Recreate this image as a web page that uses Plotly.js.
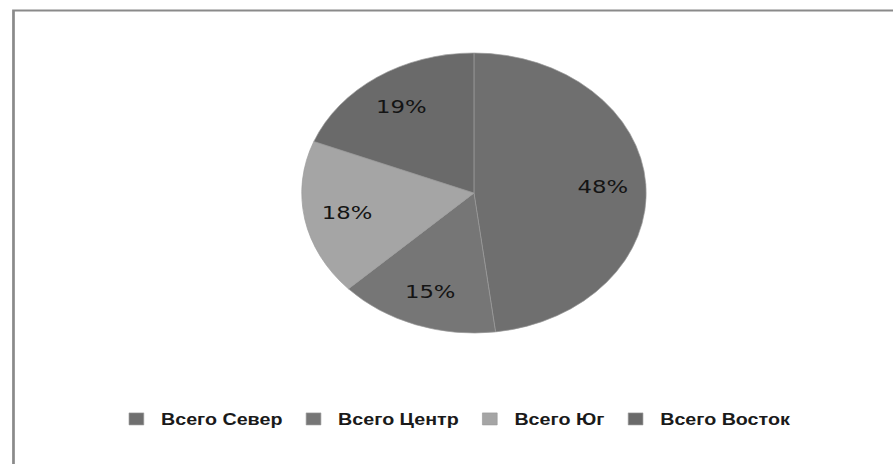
<!DOCTYPE html>
<html>
<head>
<meta charset="utf-8">
<script src="https://cdn.plot.ly/plotly-3.0.1.min.js"></script>
<style>
  html, body { margin: 0; padding: 0; background: #fff; overflow: hidden; }
  #chart { width: 726px; height: 464px; transform: scaleX(1.230028); transform-origin: 0 0; }
</style>
</head>
<body>
<div id="chart"></div>
<script>
const categories = ["Всего Север", "Всего Центр", "Всего Юг", "Всего Восток"];
const values = [48, 15, 18, 19];
const colors = ["#6f6f6f", "#767676", "#a5a5a5", "#6a6a6a"];

const pieDomain = { x: [0.3379, 0.7236], y: [0.2823, 0.8858] };

// base pie: slices + legend
const base = {
  type: "pie",
  labels: categories,
  values: values,
  sort: false,
  direction: "clockwise",
  rotation: 0,
  marker: { colors: colors, line: { color: "#9a9a9a", width: 0.6 } },
  textinfo: "none",
  domain: pieDomain,
  hoverinfo: "none"
};

// transparent ring carrying the percentage labels (places them farther out)
const labelsRing = {
  type: "pie",
  labels: categories,
  values: values,
  sort: false,
  direction: "clockwise",
  rotation: 0,
  hole: 0.5,
  showlegend: false,
  marker: { colors: ["rgba(0,0,0,0)", "rgba(0,0,0,0)", "rgba(0,0,0,0)", "rgba(0,0,0,0)"], line: { width: 0 } },
  textinfo: "percent",
  textposition: "inside",
  insidetextorientation: "horizontal",
  textfont: { family: "DejaVu Sans", size: 18.5, color: "#141414" },
  domain: pieDomain,
  hoverinfo: "none"
};

const layout = {
  width: 726,
  height: 464,
  margin: { l: 0, r: 0, t: 0, b: 0 },
  paper_bgcolor: "#ffffff",
  showlegend: true,
  legend: {
    orientation: "h",
    x: 0.5095, xanchor: "center",
    y: 0.097, yanchor: "middle",
    itemwidth: 30,
    font: { family: "Liberation Sans", size: 16, color: "#1a1a1a", weight: "bold" },
    traceorder: "normal"
  },
  shapes: [{
    type: "rect", xref: "paper", yref: "paper",
    x0: 0.0151, x1: 1.05, y0: -0.05, y1: 0.9774,
    line: { color: "#8a8a8a", width: 2.2 },
    fillcolor: "rgba(0,0,0,0)"
  }]
};

Plotly.newPlot("chart", [base, labelsRing], layout, { staticPlot: true, displayModeBar: false });
</script>
</body>
</html>
